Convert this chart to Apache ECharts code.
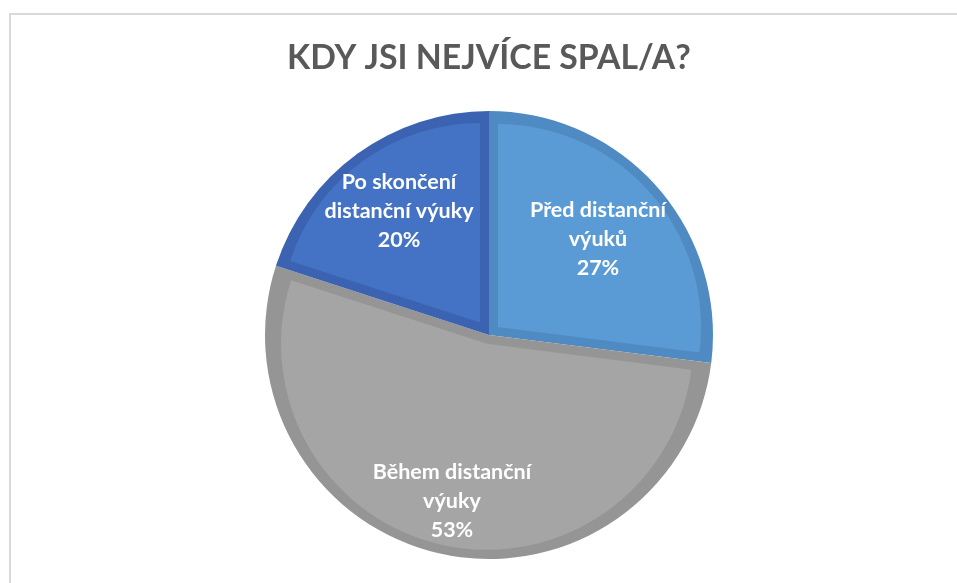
<!DOCTYPE html>
<html><head><meta charset="utf-8">
<script src="https://cdn.jsdelivr.net/npm/echarts@6/dist/echarts.min.js"></script>
<style>html,body{margin:0;padding:0;background:#fff}#c{width:957px;height:583px}</style>
</head><body><div id="c"></div>
<script>
const titleText = 'KDY JSI NEJVÍCE SPAL/A?';
const categories = ['Před distanční\nvýuků', 'Během distanční\nvýuky', 'Po skončení\ndistanční výuky'];
const values = [27, 53, 20];
const fillColors = ['#5B9BD5', '#A5A5A5', '#4472C4'];
const borderColors = ['#4F8AC2', '#959595', '#3B63B2'];
// radial distance of each label from the pie centre, as a fraction of the radius
const labelDistance = [0.635, 0.745, 0.67];

const chart = echarts.init(document.getElementById('c'), null, {renderer: 'canvas'});
const center = [489, 335];
const R = 224, border = 9;
const total = values.reduce((a, b) => a + b, 0);

// inner (lighter) fill of each slice, inset from the darker border
const innerSeries = [];
let cum = 0;
values.forEach((v, i) => {
  const theta = v / total * 2 * Math.PI;
  const bis = cum / total * 2 * Math.PI + theta / 2;
  cum += v;
  const d = border / Math.sin(theta / 2);
  innerSeries.push({
    type: 'pie', silent: true, startAngle: 90, clockwise: true,
    center: [center[0] + d * Math.sin(bis), center[1] - d * Math.cos(bis)],
    radius: R - border - d,
    label: {show: false}, labelLine: {show: false},
    data: values.map((w, j) => ({value: w, name: categories[j],
      itemStyle: {color: j === i ? fillColors[j] : 'rgba(0,0,0,0)'}}))
  });
});

// one transparent series per label, so each label sits at its own distance
const labelSeries = values.map((v, i) => ({
  type: 'pie', center: center, radius: [R * (2 * labelDistance[i] - 1), R],
  startAngle: 90, clockwise: true, silent: true,
  itemStyle: {color: 'rgba(0,0,0,0)'}, labelLine: {show: false},
  label: {show: false},
  data: values.map((w, j) => ({value: w, name: categories[j],
    label: j === i ? {show: true, position: 'inside', color: '#fff', fontFamily: 'Lato',
      fontWeight: 'bold', fontSize: 21.5, lineHeight: 29, overflow: 'none',
      formatter: p => p.name + '\n' + p.value + '%'} : {show: false}}))
}));

chart.setOption({
  animation: false,
  graphic: [{
    type: 'rect', shape: {x: 10, y: 14, width: 980, height: 620},
    style: {fill: 'none', stroke: '#D9D9D9', lineWidth: 2}, silent: true
  }],
  title: {
    text: titleText, left: 282, top: 36,
    textStyle: {fontFamily: 'Lato', fontWeight: 'bold', fontSize: 33.8, color: '#595959'}
  },
  series: [{
    type: 'pie', center: center, radius: R, startAngle: 90, clockwise: true,
    label: {show: false}, labelLine: {show: false}, silent: true,
    data: values.map((v, i) => ({value: v, name: categories[i],
      itemStyle: {color: borderColors[i]}}))
  }].concat(innerSeries).concat(labelSeries)
});
</script></body></html>
